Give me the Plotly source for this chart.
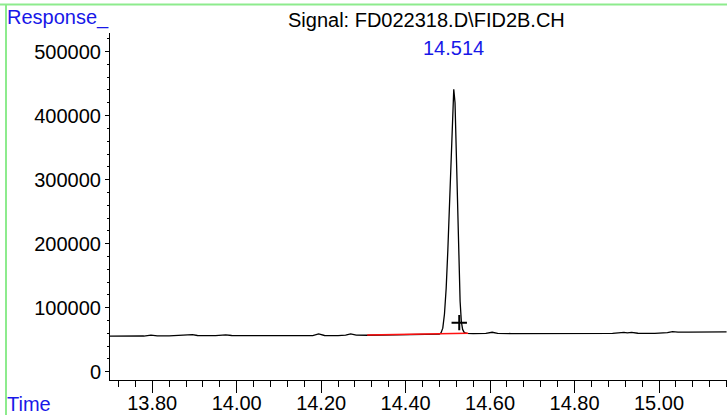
import plotly.graph_objects as go

# ---- data ----
time_min = [
    13.700, 13.740, 13.780, 13.797, 13.812, 13.840, 13.870, 13.885, 13.895, 13.907,
    13.930, 13.950, 13.974, 13.988, 14.020, 14.060, 14.100, 14.130, 14.143, 14.156,
    14.180, 14.194, 14.208, 14.240, 14.258, 14.270, 14.283, 14.310, 14.350, 14.380,
    14.420, 14.450, 14.474, 14.480, 14.484, 14.488, 14.492, 14.496, 14.500, 14.504,
    14.508, 14.511, 14.514, 14.517, 14.520, 14.523, 14.526, 14.529, 14.532, 14.535,
    14.539, 14.545, 14.560, 14.590, 14.605, 14.618, 14.650, 14.700, 14.750, 14.780,
    14.800, 14.850, 14.890, 14.917, 14.925, 14.935, 14.950, 14.990, 15.010, 15.020,
    15.032, 15.045, 15.070, 15.100, 15.122, 15.125, 15.129, 15.160,
]
response = [
    55600, 55500, 55700, 57200, 56000, 55900, 56300, 56800, 57800, 56500,
    55900, 56200, 57400, 56500, 56300, 56200, 56100, 55900, 55300, 55900,
    56300, 58900, 56500, 56300, 57000, 59000, 57000, 56900, 57200, 57400,
    57700, 57600, 57800, 58500, 61000, 68000, 90000, 130000, 190000, 265000,
    345000, 410000, 441000, 420000, 350000, 260000, 175000, 110000, 78000, 66000,
    61000, 59800, 59500, 59800, 61600, 59900, 59500, 59600, 59700, 59800,
    59700, 59600, 59700, 61400, 60600, 61300, 60000, 59900, 60400, 61000,
    62700, 61800, 61800, 61900, 61900, 63000, 61900, 62200,
]

baseline_time = [14.309, 14.548]
baseline_resp = [57300, 60000]

peak_time = 14.514
peak_resp = 441000
peak_label = "14.514"

marker_time = [14.527]
marker_resp = [76600]

x_range = [13.70, 15.161]
y_range = [-13000, 529000]

title_text = "Signal: FD022318.D\\FID2B.CH"
y_label = "Response_"
x_label = "Time"

FONT = "Liberation Sans, Arial, sans-serif"
BLUE = "#1818E8"
GREEN = "#8DEB8D"

fig = go.Figure()
fig.add_trace(go.Scatter(x=time_min, y=response, mode="lines",
                         line=dict(color="black", width=1.3), hoverinfo="skip"))
fig.add_trace(go.Scatter(x=baseline_time, y=baseline_resp, mode="lines",
                         line=dict(color="#FF1010", width=1.3), hoverinfo="skip"))
fig.add_trace(go.Scatter(x=marker_time, y=marker_resp, mode="markers",
                         marker=dict(symbol="cross-thin", size=11, color="black",
                                     line=dict(color="black", width=2)),
                         hoverinfo="skip"))

W, H = 727, 415
L, R, T, B = 110, 0, 33, 35
pw, ph = W - L - R, H - T - B


def px(x):
    return (x - L) / pw


def py(y):
    return (H - B - y) / ph


fig.update_layout(
    width=W, height=H,
    margin=dict(l=L, r=R, t=T, b=B, pad=0, autoexpand=False),
    paper_bgcolor="white", plot_bgcolor="white",
    showlegend=False,
    font=dict(family=FONT, size=20, color="black"),
    xaxis=dict(range=x_range, showgrid=False, zeroline=False, automargin=False,
               showline=True, linecolor="black", linewidth=1,
               ticks="outside", ticklen=12, tickwidth=1, tickcolor="black",
               tick0=13.8, dtick=0.2, tickformat=".2f", ticklabelstandoff=-7,
               minor=dict(ticks="outside", ticklen=6, dtick=0.04, tick0=13.8,
                          tickcolor="black", tickwidth=1, showgrid=False),
               tickfont=dict(family=FONT, size=20, color="black")),
    yaxis=dict(range=y_range, showgrid=False, zeroline=False, automargin=False,
               showline=True, linecolor="black", linewidth=1,
               ticks="outside", ticklen=4, tickwidth=1, tickcolor="black",
               tick0=0, dtick=100000, tickformat="d",
               minor=dict(ticks="outside", ticklen=2, dtick=20000,
                          tickcolor="black", tickwidth=1, showgrid=False),
               tickfont=dict(family=FONT, size=20, color="black")),
    annotations=[
        dict(text=title_text, xref="paper", yref="paper", x=px(426), y=py(20),
             xanchor="center", yanchor="middle", showarrow=False,
             font=dict(family=FONT, size=20, color="black")),
        dict(text=y_label, xref="paper", yref="paper", x=px(5), y=py(18),
             xanchor="left", yanchor="middle", showarrow=False,
             font=dict(family=FONT, size=20, color=BLUE)),
        dict(text=x_label, xref="paper", yref="paper", x=px(5), y=py(404),
             xanchor="left", yanchor="middle", showarrow=False,
             font=dict(family=FONT, size=20, color=BLUE)),
        dict(text=peak_label, xref="x", yref="y", x=peak_time, y=peak_resp,
             xanchor="center", yanchor="bottom", yshift=28, showarrow=False,
             font=dict(family=FONT, size=20, color=BLUE)),
    ],
    shapes=[
        dict(type="line", xref="paper", yref="paper", x0=px(0), x1=px(W),
             y0=py(4.5), y1=py(4.5), line=dict(color=GREEN, width=2)),
        dict(type="line", xref="paper", yref="paper", x0=px(6), x1=px(6),
             y0=py(4.5), y1=py(H), line=dict(color=GREEN, width=2)),
    ],
)

fig.write_html(
    "out.html",
    config={"displayModeBar": False},
    post_script="document.body.style.margin='0';document.body.style.overflow='hidden';",
)
